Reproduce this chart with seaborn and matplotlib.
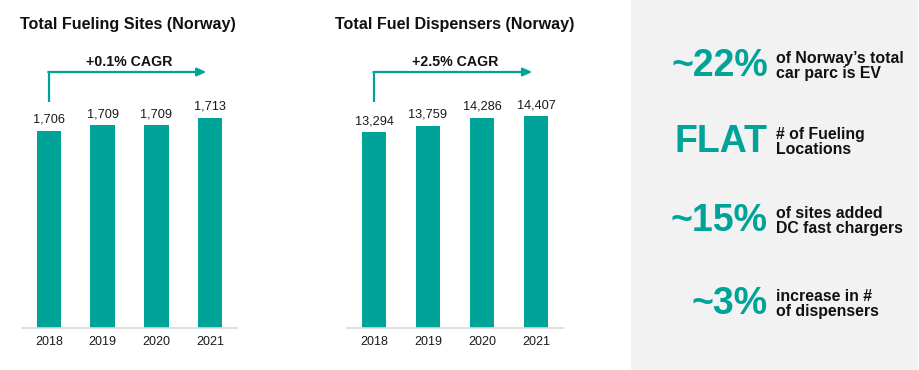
import matplotlib
matplotlib.use("Agg")
import matplotlib.pyplot as plt
import matplotlib.transforms as mtransforms
from matplotlib.patches import Rectangle
import seaborn as sns


YEARS = ["2018", "2019", "2020", "2021"]
SITES = [1706, 1709, 1709, 1713]
DISPENSERS = [13294, 13759, 14286, 14407]

TITLES = ["Total Fueling Sites (Norway)", "Total Fuel Dispensers (Norway)"]
CAGR_LABELS = ["+0.1% CAGR", "+2.5% CAGR"]

STAT_BIG = ["~22%", "FLAT", "~15%", "~3%"]
STAT_TEXT = [
    "of Norway\u2019s total\ncar parc is EV",
    "# of Fueling\nLocations",
    "of sites added\nDC fast chargers",
    "increase in #\nof dispensers",
]

TEAL = "#00a398"
GRAY_LINE = "#d9d9d9"
PANEL = "#f2f2f2"

W, H = 920, 370


def fx(x):
    return x / W


def fy(y):
    # pixel from top -> figure fraction from bottom
    return 1 - y / H


sns.set_theme(style="white")
plt.rcParams["font.family"] = ["Liberation Sans", "DejaVu Sans"]

fig = plt.figure(figsize=(9.2, 3.7), dpi=100)
fig.patch.set_facecolor("white")

# grey panel on the right
fig.patches.append(
    Rectangle((fx(631), 0), fx(918 - 631), 1, transform=fig.transFigure,
              facecolor=PANEL, edgecolor="none", zorder=0)
)

base_px, top_px = 327.7, 40
ax_bottom = fy(base_px)
ax_height = (base_px - top_px) / H

axes = [
    fig.add_axes([fx(22), ax_bottom, fx(215), ax_height]),
    fig.add_axes([fx(347), ax_bottom, fx(216), ax_height]),
]
ylims = [(1600, 1600 + (base_px - top_px) / 1.858),
         (0, (base_px - top_px) / 0.01469)]
title_x = [20, 335]

for ax, vals, ylim, title, cagr, tx in zip(
    axes, [SITES, DISPENSERS], ylims, TITLES, CAGR_LABELS, title_x
):
    sns.barplot(x=YEARS, y=vals, ax=ax, color=TEAL, width=0.46,
                saturation=1, edgecolor="none")
    ax.set_ylim(*ylim)
    ax.set_xlim(-0.5, 3.5)
    ax.bar_label(ax.containers[0], labels=[f"{v:,}" for v in vals],
                 padding=3.5, fontsize=9.2, color="#1a1a1a")
    ax.set_facecolor("none")
    ax.set_yticks([])
    ax.set_ylabel("")
    ax.set_xlabel("")
    for side in ["left", "right", "top"]:
        ax.spines[side].set_visible(False)
    ax.spines["bottom"].set_color(GRAY_LINE)
    ax.spines["bottom"].set_linewidth(1.2)
    ax.tick_params(axis="x", length=0, pad=6, labelsize=9, labelcolor="#1a1a1a")

    # CAGR arrow
    trans = mtransforms.blended_transform_factory(ax.transData, ax.transAxes)
    y_low = (base_px - 102) / (base_px - top_px)
    y_line = (base_px - 72) / (base_px - top_px)
    ax.plot([0, 0], [y_low, y_line], color=TEAL, lw=1.6, transform=trans,
            clip_on=False, solid_capstyle="butt")
    ax.annotate("", xy=(2.93, y_line), xytext=(-0.012, y_line),
                xycoords=trans, textcoords=trans,
                arrowprops=dict(arrowstyle="-|>,head_length=0.45,head_width=0.2",
                                color=TEAL, lw=1.6, shrinkA=0, shrinkB=0))
    y_txt = (base_px - 62.5) / (base_px - top_px)
    ax.text(1.5, y_txt, cagr, transform=trans, ha="center", va="center",
            fontsize=10.2, fontweight="bold", color="#111111")

    fig.text(fx(tx), fy(24), title, ha="left", va="center",
             fontsize=11.6, fontweight="bold", color="#111111")

# stats on the grey panel
stat_y = [66, 142, 221, 304]
for big, small, y in zip(STAT_BIG, STAT_TEXT, stat_y):
    fig.text(fx(768), fy(y), big, ha="right", va="center", fontsize=27,
             fontweight="bold", color=TEAL)
    fig.text(fx(776), fy(y), small, ha="left", va="center", fontsize=11.4,
             fontweight="bold", color="#111111", linespacing=1.0)

fig.savefig("out.png", dpi=100, facecolor="white")
